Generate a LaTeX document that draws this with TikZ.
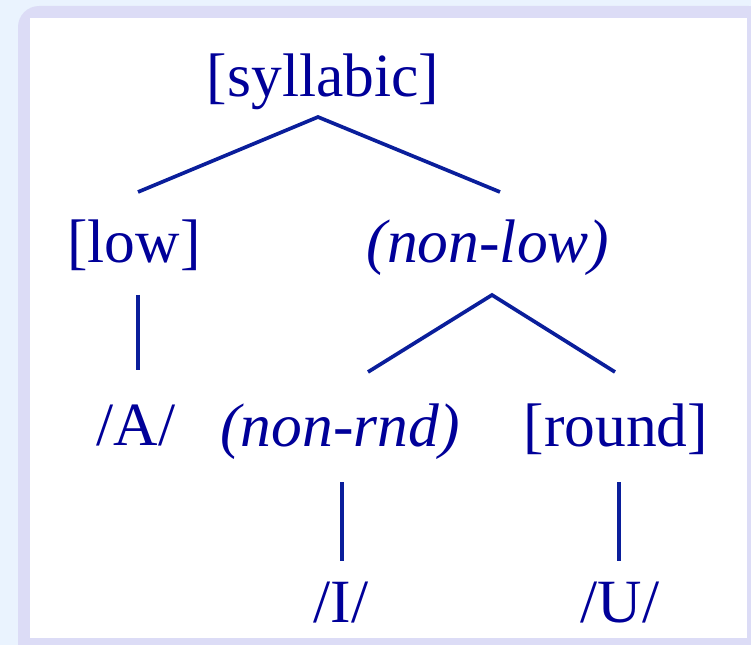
\documentclass[tikz,border=0pt]{standalone}
\usepackage{fontspec}
\setmainfont{Liberation Serif}
\definecolor{featblue}{HTML}{000099}
\definecolor{linkblue}{HTML}{0A1E9B}
\definecolor{pagebg}{HTML}{EAF3FE}
\definecolor{framebg}{HTML}{DCDCF6}
\tikzset{
  feat/.style={anchor=base, inner sep=0pt, text=featblue,
    font=\fontsize{35}{42}\selectfont},
  branch/.style={draw=linkblue, line width=2.1pt}
}
\begin{document}
\begin{tikzpicture}[x=0.02cm, y=-0.02cm]

  % Achtergrond en kader
  \useasboundingbox (0,0) rectangle (751,645);
  \fill[pagebg] (0,0) rectangle (751,645);
  \fill[framebg, rounded corners=12] (18,6) rectangle (770,665);
  \fill[white] (30,18) rectangle (747,638);

  % Kenmerken
  \node[feat] (syl)    at (323,97)  {[syllabic]};
  \node[feat] (low)    at (134,263) {[low]};
  \node[feat] (nonlow) at (488,263) {\itshape (non-low)};
  \node[feat] (A)      at (136,445) {/A/};
  \node[feat] (nonrnd) at (340,446) {\itshape (non-rnd)};
  \node[feat] (round)  at (616,446) {[round]};
  \node[feat] (I)      at (341,622) {/I/};
  \node[feat] (U)      at (620,622) {/U/};

  % Knooppunten van de takken
  \coordinate (syl-b)    at (318,117);
  \coordinate (low-t)    at (138,192);
  \coordinate (nonlow-t) at (500,192);
  \coordinate (low-b)    at (138,295);
  \coordinate (A-t)      at (138,370);
  \coordinate (nonlow-b) at (492,295);
  \coordinate (nonrnd-t) at (368,372);
  \coordinate (round-t)  at (615,372);
  \coordinate (nonrnd-b) at (342,482);
  \coordinate (I-t)      at (342,561);
  \coordinate (round-b)  at (619,482);
  \coordinate (U-t)      at (619,561);

  % Takken
  \draw[branch] (low-t) -- (syl-b) -- (nonlow-t);
  \draw[branch] (low-b) -- (A-t);
  \draw[branch] (nonrnd-t) -- (nonlow-b) -- (round-t);
  \draw[branch] (nonrnd-b) -- (I-t);
  \draw[branch] (round-b) -- (U-t);

\end{tikzpicture}
\end{document}
